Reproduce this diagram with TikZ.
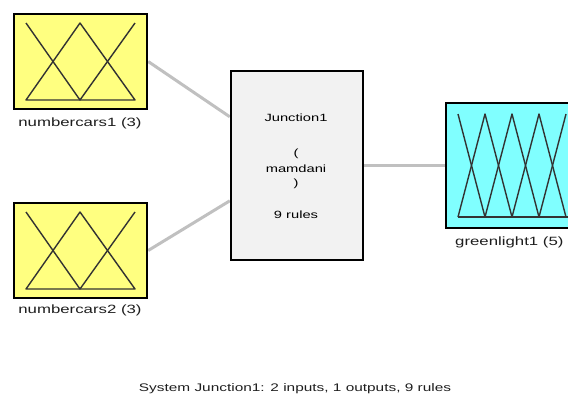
\documentclass[tikz,border=0pt]{standalone}
\usepackage{fontspec}
\newfontfamily\lblfont[FakeStretch=1.4]{Liberation Sans}
\usetikzlibrary{backgrounds,calc}
\definecolor{inyellow}{RGB}{255,255,128}
\definecolor{outcyan}{RGB}{128,255,255}
\definecolor{rulegray}{RGB}{242,242,242}
\definecolor{wiregray}{RGB}{192,192,192}
\definecolor{txtgray}{RGB}{30,30,30}
\tikzset{
  varbox/.style={draw=black, line width=2.4pt, inner sep=0pt, rectangle},
  mf/.style={draw=black!80, line width=1.4pt, line join=round},
  wire/.style={draw=wiregray, line width=3pt},
  lbl/.style={font=\lblfont\fontsize{12}{14}\selectfont, text=txtgray, inner sep=0pt, anchor=base},
  ctext/.style={font=\lblfont\fontsize{10.5}{12}\selectfont, text=black, inner sep=0pt, anchor=base},
}
\begin{document}
\begin{tikzpicture}[x=1pt,y=-1pt]
\useasboundingbox (0,0) rectangle (568,394);
\clip (0,0) rectangle (568,394);
% input 1
\node[varbox, fill=inyellow, minimum width=133pt, minimum height=95pt] (in1) at (80.5,61.5) {};
\draw[mf] (26,23) -- (80,100) -- (135,23);
\draw[mf] (26,100) -- (80,23) -- (135,100) -- cycle;
\node[lbl] (in1lbl) at (80,126) {numbercars1 (3)};
% input 2
\node[varbox, fill=inyellow, minimum width=133pt, minimum height=95pt] (in2) at (80.5,250.5) {};
\draw[mf] (26,212) -- (80,289) -- (135,212);
\draw[mf] (26,289) -- (80,212) -- (135,289) -- cycle;
\node[lbl] (in2lbl) at (80,313) {numbercars2 (3)};
% rule block
\node[varbox, fill=rulegray, minimum width=132pt, minimum height=189pt] (rules) at (297,165.5) {};
\node[ctext] (t1) at (296,121) {Junction1};
\node[ctext] (t2) at (296,156) {(};
\node[ctext] (t3) at (296,172) {mamdani};
\node[ctext] (t4) at (296,186) {)};
\node[ctext] (t5) at (296,218) {9 rules};
% output
\node[varbox, fill=outcyan, minimum width=134pt, minimum height=125pt] (out) at (513,165.5) {};
\draw[mf] (458,114) -- (485,217) -- (512,114) -- (539,217) -- (566,114);
\draw[mf] (458,217) -- (485,114) -- (512,217) -- (539,114) -- (566,217);
\draw[mf] (458,217) -- (568,217);
\node[lbl, anchor=base west] (outlbl) at (455,245) {greenlight1 (5)};
% connectors
\begin{scope}[on background layer]
\draw[wire] (in1.east) -- ($(rules.north west)+(0,47)$);
\draw[wire] (in2.east) -- ($(rules.north west)+(0,131)$);
\draw[wire] (rules.east) -- (out.west);
\end{scope}
% caption
\node[lbl, font=\lblfont\fontsize{11}{13}\selectfont] (cap) at (295,391) {System Junction1: 2 inputs, 1 outputs, 9 rules};
\end{tikzpicture}
\end{document}
